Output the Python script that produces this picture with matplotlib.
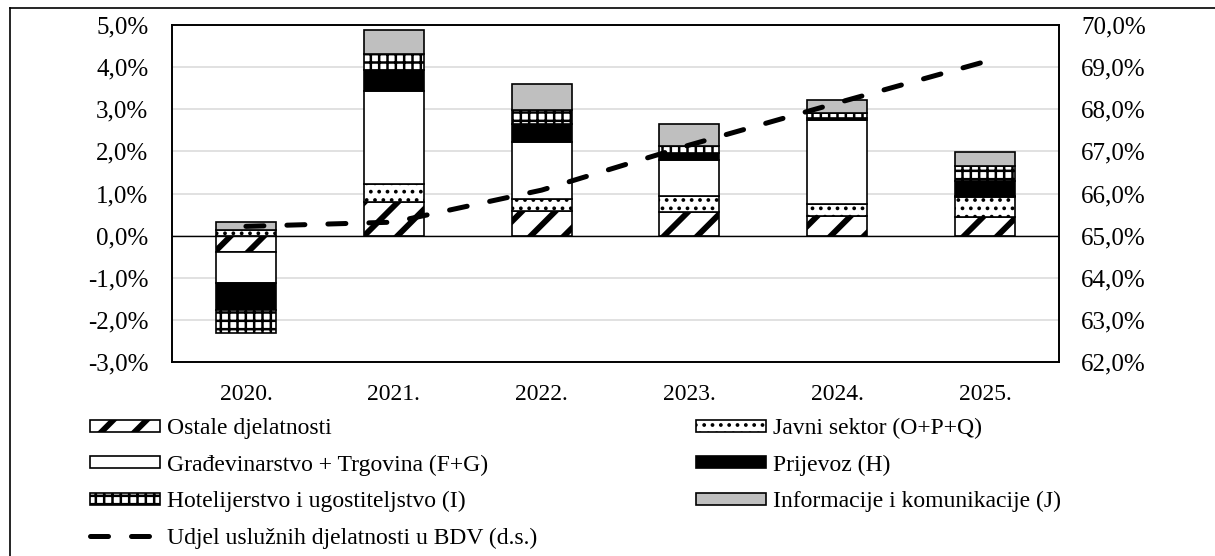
import numpy as np
import matplotlib as mpl
import matplotlib.pyplot as plt
from matplotlib.patches import Patch
from matplotlib.lines import Line2D
from matplotlib.ticker import FuncFormatter

plt.rcParams['font.family'] = ['Liberation Serif', 'DejaVu Serif']

# ============================================================
# DATA (doprinosi rastu, p.p.)
# ============================================================
years = ['2020.', '2021.', '2022.', '2023.', '2024.', '2025.']

ostale = [-0.40, 0.79, 0.58, 0.55, 0.46, 0.45]
javni = [0.14, 0.44, 0.28, 0.40, 0.29, 0.47]
gradj_trg = [-0.73, 2.21, 1.36, 0.85, 2.00, 0.03]
prijevoz = [-0.63, 0.50, 0.42, 0.16, 0.04, 0.34]
hotel = [-0.54, 0.36, 0.34, 0.17, 0.13, 0.37]
info = [0.18, 0.57, 0.63, 0.51, 0.31, 0.32]

udjel_bdv = [65.22, 65.32, 66.08, 67.15, 68.15, 69.13]

labels = ['Ostale djelatnosti', 'Javni sektor (O+P+Q)',
          'Građevinarstvo + Trgovina (F+G)', 'Prijevoz (H)',
          'Hotelijerstvo i ugostiteljstvo (I)', 'Informacije i komunikacije (J)']
line_label = 'Udjel uslužnih djelatnosti u BDV (d.s.)'

# ============================================================
# STYLE
# ============================================================
FS = 17        # x labels + legend
FS_Y = 18      # y tick labels
styles = [
    dict(facecolor='white', hatch='/', hlw=4.2),
    dict(facecolor='white', hatch='..', hlw=1.5),
    dict(facecolor='white', hatch=None, hlw=1.0),
    dict(facecolor='black', hatch=None, hlw=1.0),
    dict(facecolor='white', hatch='++', hlw=1.8),
    dict(facecolor='#bfbfbf', hatch=None, hlw=1.0),
]
series = [ostale, javni, gradj_trg, prijevoz, hotel, info]

W, H = 1215, 556
fig = plt.figure(figsize=(W / 100, H / 100), dpi=100)
ax = fig.add_axes([172 / W, 1 - 362 / H, 887 / W, 337 / H])

x = np.arange(len(years))
pos_base = np.zeros(len(years))
neg_base = np.zeros(len(years))

# Excel-style stacking: positives up from zero, negatives down from zero
for vals, st in zip(series, styles):
    vals = np.array(vals)
    bottom = np.where(vals >= 0, pos_base, neg_base)
    with mpl.rc_context({'hatch.linewidth': st['hlw']}):
        bars = ax.bar(x, vals, 0.405, bottom=bottom, color=st['facecolor'],
                      edgecolor='black', linewidth=1.2, hatch=st['hatch'], zorder=2)
    for b in bars:
        if hasattr(b, 'set_hatch_linewidth'):
            b.set_hatch_linewidth(st['hlw'])
    pos_base += np.where(vals >= 0, vals, 0)
    neg_base += np.where(vals < 0, vals, 0)

pct = FuncFormatter(lambda v, p: f'{v:.1f}%'.replace('.', ','))

ax.set_xlim(-0.5, len(years) - 0.5)
ax.set_ylim(-3, 5)
ax.set_yticks(np.arange(-3, 5.01, 1))
ax.yaxis.set_major_formatter(pct)
ax.set_xticks(x)
ax.set_xticklabels(years)
ax.tick_params(axis='both', length=0)
ax.tick_params(axis='y', pad=17, labelsize=FS_Y)
ax.tick_params(axis='x', pad=16, labelsize=FS)
ax.grid(axis='y', color='#d9d9d9', linewidth=1.1, zorder=0)
ax.set_axisbelow(True)
ax.axhline(0, color='black', linewidth=1.0, zorder=3)
for sp in ax.spines.values():
    sp.set_linewidth(1.2)

# secondary axis - udjel usluznih djelatnosti
ax2 = ax.twinx()
ax2.plot(x, udjel_bdv, color='black', linewidth=3.6, linestyle=(0, (3.6, 4.6)),
         dash_capstyle='round', zorder=4)
ax2.set_ylim(62, 70)
ax2.set_yticks(np.arange(62, 70.01, 1))
ax2.yaxis.set_major_formatter(pct)
ax2.tick_params(axis='y', length=0, labelsize=FS_Y, pad=16)
for sp in ax2.spines.values():
    sp.set_linewidth(1.2)

# legend: left column first, then right column
handles = []
for st in styles:
    with mpl.rc_context({'hatch.linewidth': st['hlw']}):
        handles.append(Patch(facecolor=st['facecolor'], edgecolor='black',
                             linewidth=1.2, hatch=st['hatch']))
line_h = Line2D([], [], color='black', linewidth=3.6, linestyle=(0, (3.6, 4.6)),
                dash_capstyle='round')
leg_handles = [handles[0], handles[2], handles[4], line_h, handles[1], handles[3], handles[5]]
leg_labels = [labels[0], labels[2], labels[4], line_label, labels[1], labels[3], labels[5]]
hlws = [styles[0]['hlw'], styles[2]['hlw'], styles[4]['hlw'], None,
        styles[1]['hlw'], styles[3]['hlw'], styles[5]['hlw']]

leg = fig.legend(leg_handles, leg_labels, ncol=2, loc='upper left',
                 bbox_to_anchor=(90 / W, 1 - 418 / H), frameon=False,
                 fontsize=FS, handlelength=2.97, handleheight=0.42,
                 handletextpad=0.3, columnspacing=6.7, labelspacing=0.65,
                 borderpad=0, borderaxespad=0)
for h, lw in zip(leg.legend_handles, hlws):
    if lw is not None and hasattr(h, 'set_hatch_linewidth'):
        h.set_hatch_linewidth(lw)

# outer frame (left and top edges)
fig.add_artist(Line2D([10 / W, 10 / W], [0, 1 - 8 / H], transform=fig.transFigure,
                      color='black', linewidth=1.2))
fig.add_artist(Line2D([10 / W, 1], [1 - 8 / H, 1 - 8 / H], transform=fig.transFigure,
                      color='black', linewidth=1.2))

fig.savefig('out.png', dpi=100)
plt.close(fig)
